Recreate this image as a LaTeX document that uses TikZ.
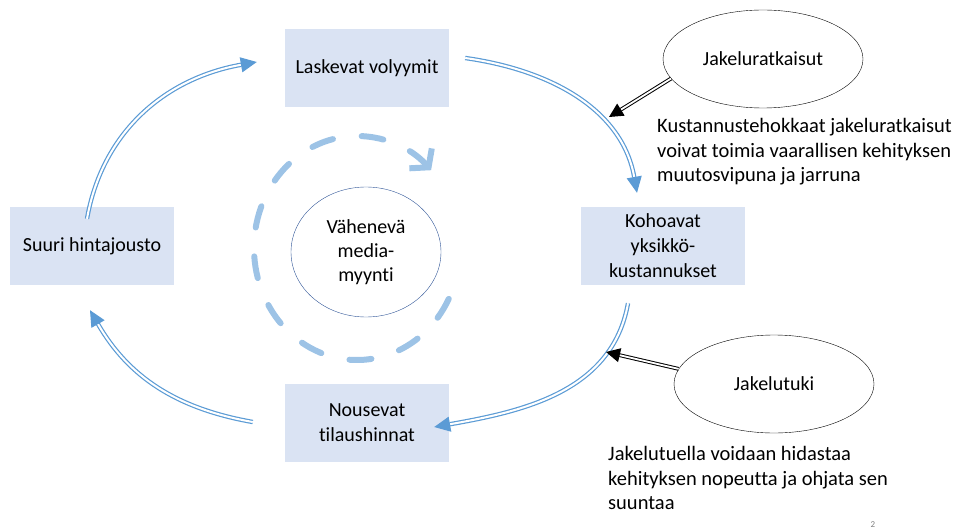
\documentclass[tikz,border=0pt]{standalone}
\usepackage{fontspec}
\setmainfont{Carlito}[Ligatures=NoCommon]
\usetikzlibrary{positioning, arrows.meta, shapes.geometric}
\definecolor{boxfill}{RGB}{218,227,243}
\definecolor{loopblue}{RGB}{91,155,213}
\definecolor{dashblue}{RGB}{157,195,230}
\definecolor{rimblue}{RGB}{47,85,151}

\begin{document}
\begin{tikzpicture}[x=1pt, y=1pt,
        bx/.style={rectangle, fill=boxfill, minimum width=164pt, minimum height=78pt,
          inner sep=0pt, align=center, font=\fontsize{20}{25}\selectfont},
        ov/.style={ellipse, draw, minimum width=200pt, minimum height=98pt,
          inner sep=0pt, font=\fontsize{20}{25}\selectfont},
        note/.style={anchor=west, align=left, inner sep=0pt, font=\fontsize{20.5}{24.5}\selectfont},
        loop/.style={draw=loopblue, line width=1.2pt, double=white, double distance=2pt,
          -{Triangle[length=16pt, width=15pt]}},
        lever/.style={draw=black, line width=1pt, double=white, double distance=1.8pt,
          -{Triangle[length=14pt, width=14pt]}}]
      \useasboundingbox (0,0) rectangle (957,531);
      % the loop
      \node[bx] (lv) at (367,463) {Laskevat volyymit};
      \node[bx] (sh) at (92,285) {Suuri hintajousto};
      \node[bx] (ky) at (663,285) {Kohoavat\\yksikkö-\\kustannukset};
      \node[bx] (nt) at (367,108) {Nousevat\\tilaushinnat};
      \node[ellipse, draw=rimblue, thin, minimum width=150pt, minimum height=130pt,
        inner sep=0pt, align=center, font=\fontsize{20}{24}\selectfont]
        (vm) at (366,279) {Vähenevä\\media-\\myynti};
      \draw [dashblue, line width=6pt, line cap=round, dash pattern=on 22pt off 29pt,
        -{Straight Barb[length=12pt, width=30pt]}]
        ([shift={(-27:103 and 112)}]357,283) arc[start angle=-27, end angle=-316,
        x radius=103, y radius=112];
      \draw [loop] ([shift={(-5,-12)}]sh.north) to[out=80, in=190] ([shift={(-28,6)}]lv.west);
      \draw [loop] ([shift={(16,10)}]lv.east) to[out=-8, in=100] ([shift={(-26,14)}]ky.north);
      \draw [loop] ([shift={(-35,-18)}]ky.south) to[out=-100, in=10] ([shift={(-15,-4)}]nt.east);
      \draw [loop] ([shift={(-32,1)}]nt.west) to[out=170, in=-60] ([shift={(-2,-25)}]sh.south);
      % the levers
      \node[ov] (jr) at (763,472) {Jakeluratkaisut};
      \node[ov] (jt) at (774,147) {Jakelutuki};
      \coordinate (jrtip) at (609,414);
      \coordinate (jttip) at (606,179);
      \draw [lever] (jr.192) to (jrtip);
      \draw [lever] (jt.171) to (jttip);
      \node[note] (jrnote) at (657,379) {Kustannustehokkaat jakeluratkaisut\\voivat toimia vaarallisen kehityksen\\muutosvipuna ja jarruna};
      \node[note] (jtnote) at (608,53) {Jakelutuella voidaan hidastaa\\kehityksen nopeutta ja ohjata sen\\suuntaa};
      \node[gray, font=\fontsize{9}{9}\selectfont, inner sep=0pt] (pg) at (873,6) {2};
    \end{tikzpicture}
\end{document}
